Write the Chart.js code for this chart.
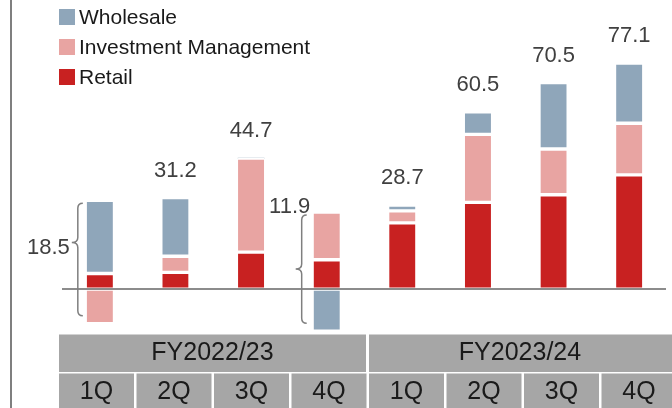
<!DOCTYPE html>
<html>
<head>
<meta charset="utf-8">
<script src="https://cdn.jsdelivr.net/npm/chart.js@4"></script>
<style>
  html, body { margin: 0; padding: 0; background: #fff; overflow: hidden; }
  canvas { display: block; }
</style>
</head>
<body>
<canvas id="grafico" width="672" height="408"></canvas>
<script>
// data
const quarters = ['1Q', '2Q', '3Q', '4Q', '1Q', '2Q', '3Q', '4Q'];
const fiscalYears = ['FY2022/23', 'FY2023/24'];
const retail = [5.3, 5.7, 12.6, 10.0, 22.6, 29.6, 32.2, 39.0];
const investmentMgmt = [-11.8, 5.5, 32.1, 16.3, 4.1, 23.2, 15.6, 17.6];
const wholesale = [25.0, 20.0, 0, -14.4, 2.0, 7.7, 22.7, 20.5];
const totals = [18.5, 31.2, 44.7, 11.9, 28.7, 60.5, 70.5, 77.1];

const FONT = '"Liberation Sans", Arial, sans-serif';
const colores = { wholesale: '#8fa6ba', im: '#e8a4a2', retail: '#c82121' };

const leyenda = [
  ['Wholesale', colores.wholesale],
  ['Investment Management', colores.im],
  ['Retail', colores.retail]
];

function llave(ctx, x, y1, y2, ym) {
  const r = 5;
  ctx.beginPath();
  ctx.moveTo(x + r, y1);
  ctx.quadraticCurveTo(x, y1, x, y1 + r);
  ctx.lineTo(x, ym - r);
  ctx.quadraticCurveTo(x, ym, x - 6, ym);
  ctx.quadraticCurveTo(x, ym, x, ym + r);
  ctx.lineTo(x, y2 - r);
  ctx.quadraticCurveTo(x, y2, x + r, y2);
  ctx.stroke();
}

const extras = {
  id: 'extras',
  afterDatasetsDraw(chart) {
    const ctx = chart.ctx;
    const x = chart.scales.x, y = chart.scales.y;
    const y0 = y.getPixelForValue(0);
    ctx.save();

    // left frame line
    ctx.strokeStyle = '#7f7f7f';
    ctx.lineWidth = 2;
    ctx.beginPath(); ctx.moveTo(11, 0); ctx.lineTo(11, 408); ctx.stroke();

    // zero line
    ctx.strokeStyle = '#8c8c8c';
    ctx.beginPath(); ctx.moveTo(62, y0); ctx.lineTo(666, y0); ctx.stroke();

    // legend
    ctx.font = '21px ' + FONT;
    ctx.textBaseline = 'middle';
    ctx.textAlign = 'left';
    leyenda.forEach((l, k) => {
      ctx.fillStyle = l[1];
      ctx.fillRect(59, 9 + k * 30, 16, 16);
      ctx.fillStyle = '#1a1a1a';
      ctx.fillText(l[0], 79, 18 + k * 30);
    });

    // totals and braces
    ctx.font = '22px ' + FONT;
    ctx.fillStyle = '#404040';
    totals.forEach((t, i) => {
      const vals = [retail[i], investmentMgmt[i], wholesale[i]];
      const pos = vals.filter(v => v > 0).reduce((a, b) => a + b, 0);
      const neg = vals.filter(v => v < 0).reduce((a, b) => a + b, 0);
      const cx = x.getPixelForValue(i);
      const top = y.getPixelForValue(pos);
      if (neg === 0) {
        ctx.textAlign = 'center';
        ctx.fillText(t.toFixed(1), cx, top - 27);
        return;
      }
      const bot = y.getPixelForValue(neg);
      const y1 = top + 3, y2 = bot - 8;
      ctx.strokeStyle = '#7f7f7f';
      ctx.lineWidth = 1.5;
      if (i === 0) {
        const bx = cx - 13 - 9;
        const ym = y1 + (y2 - y1) * 0.35;
        llave(ctx, bx, y1, y2, ym);
        ctx.textAlign = 'right';
        ctx.fillText(t.toFixed(1), bx - 8, ym + 5);
      } else {
        const bx = cx - 13 - 12;
        const ym = (y1 + y2) / 2;
        llave(ctx, bx, y1, y2, ym);
        ctx.textAlign = 'center';
        ctx.fillText(t.toFixed(1), bx - 12, y1 - 8);
      }
    });

    // category table
    const izq = 59, paso = 77.5, ancho = 75;
    ctx.fillStyle = '#a6a6a6';
    ctx.fillRect(izq, 334.5, 307, 37.5);
    ctx.fillRect(369, 334.5, 310, 37.5);
    quarters.forEach((q, i) => {
      ctx.fillRect(izq + i * paso, 373.5, ancho, 40);
    });
    ctx.fillStyle = '#1a1a1a';
    ctx.font = '25px ' + FONT;
    ctx.textAlign = 'center';
    ctx.fillText(fiscalYears[0], izq + 307 / 2, 353);
    ctx.fillText(fiscalYears[1], 369 + 151, 353);
    quarters.forEach((q, i) => {
      ctx.fillText(q, izq + i * paso + ancho / 2, 392.5);
    });
    ctx.restore();
  }
};

const barra = (label, data, color) => ({
  label: label,
  data: data,
  backgroundColor: color,
  borderColor: '#ffffff',
  borderWidth: { top: 2, bottom: 2, left: 0, right: 0 },
  borderSkipped: false,
  barThickness: 26
});

const grafico = new Chart(document.getElementById('grafico'), {
  type: 'bar',
  data: {
    labels: quarters,
    datasets: [
      barra('Retail', retail, colores.retail),
      barra('Investment Management', investmentMgmt, colores.im),
      barra('Wholesale', wholesale, colores.wholesale)
    ]
  },
  options: {
    responsive: false,
    animation: false,
    devicePixelRatio: 1,
    layout: { padding: { left: 62, right: 5, top: 4, bottom: 75 } },
    plugins: { legend: { display: false }, tooltip: { enabled: false } },
    scales: {
      x: { display: false, stacked: true },
      y: { display: false, stacked: true, min: -15, max: 97.3 }
    }
  },
  plugins: [extras]
});
</script>
</body>
</html>
